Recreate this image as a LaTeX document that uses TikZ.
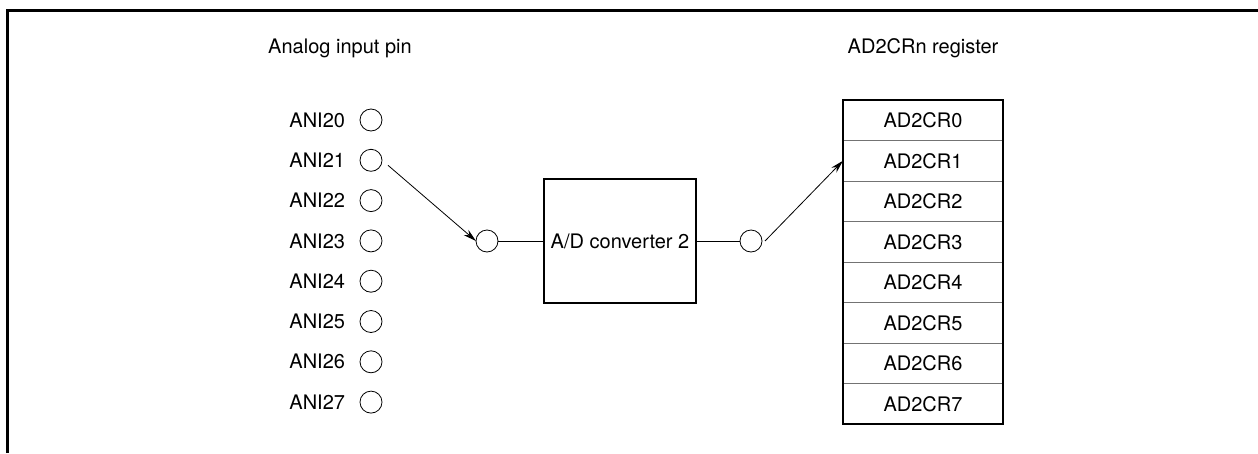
\documentclass[tikz,border=0pt]{standalone}
\usepackage{fontspec}
\setmainfont{TeX Gyre Heros}
\usepackage{tikz}
\usetikzlibrary{
  arrows.meta,
  shapes,
  shapes.geometric,
  positioning,
  calc
}
\tikzset{
  adnode/.style={font=\fontsize{20}{24}\selectfont},
  pin/.style={draw, circle, minimum size=22pt, inner sep=0pt, outer sep=0pt, line width=0.8pt},
  pinlbl/.style={adnode, inner sep=0pt, outer sep=0pt},
  title/.style={adnode, inner sep=0pt, anchor=base},
  conv/.style={adnode, draw, line width=2pt, minimum width=152pt, minimum height=124pt,
    inner sep=0pt, outer sep=0pt},
  regcell/.style={adnode, draw=black!55, line width=0.8pt, minimum width=160pt,
    minimum height=40.5pt, inner sep=0pt, outer sep=0pt},
  regbox/.style={draw, line width=2.5pt},
  frameline/.style={line width=3pt},
  wire/.style={line width=0.8pt},
  sig/.style={-{Stealth[length=13pt, width=7pt]}, line width=0.8pt}
}

\begin{document}
\begin{tikzpicture}[x=1pt, y=-1pt, node distance=18.3pt]
  \useasboundingbox (0,0) rectangle (1258,453);
  \draw[frameline] (7.5,453) -- (7.5,10.5) -- (1258,10.5);

  % analog input pins
  \node[title] (pintitle) at (340,53) {Analog input pin};
  \node[pin] (p0) at (371,120) {};
  \node[pin, below=of p0] (p1) {};
  \node[pin, below=of p1] (p2) {};
  \node[pin, below=of p2] (p3) {};
  \node[pin, below=of p3] (p4) {};
  \node[pin, below=of p4] (p5) {};
  \node[pin, below=of p5] (p6) {};
  \node[pin, below=of p6] (p7) {};
  \node[pinlbl, left=15pt of p0] (l0) {ANI20};
  \node[pinlbl, left=15pt of p1] (l1) {ANI21};
  \node[pinlbl, left=15pt of p2] (l2) {ANI22};
  \node[pinlbl, left=15pt of p3] (l3) {ANI23};
  \node[pinlbl, left=15pt of p4] (l4) {ANI24};
  \node[pinlbl, left=15pt of p5] (l5) {ANI25};
  \node[pinlbl, left=15pt of p6] (l6) {ANI26};
  \node[pinlbl, left=15pt of p7] (l7) {ANI27};

  % converter
  \node[conv] (conv) at (620,241) {A/D converter 2};
  \node[pin, left=46pt of conv] (mux) {};
  \node[pin, right=44pt of conv] (out) {};

  % result registers
  \node[title] (regtitle) at (923,53) {AD2CRn register};
  \node[regcell] (reg0) at (923,120.25) {AD2CR0};
  \node[regcell, below=0pt of reg0] (reg1) {AD2CR1};
  \node[regcell, below=0pt of reg1] (reg2) {AD2CR2};
  \node[regcell, below=0pt of reg2] (reg3) {AD2CR3};
  \node[regcell, below=0pt of reg3] (reg4) {AD2CR4};
  \node[regcell, below=0pt of reg4] (reg5) {AD2CR5};
  \node[regcell, below=0pt of reg5] (reg6) {AD2CR6};
  \node[regcell, below=0pt of reg6] (reg7) {AD2CR7};
  \draw[regbox] (reg0.north west) rectangle (reg7.south east);

  \draw[sig] ([xshift=6pt, yshift=-5pt]p1.east) -- (mux.west);
  \draw[wire] (mux) -- (conv);
  \draw[wire] (conv) -- (out);
  \draw[sig] ([xshift=3pt]out.east) -- (reg1.west);
\end{tikzpicture}
\end{document}
